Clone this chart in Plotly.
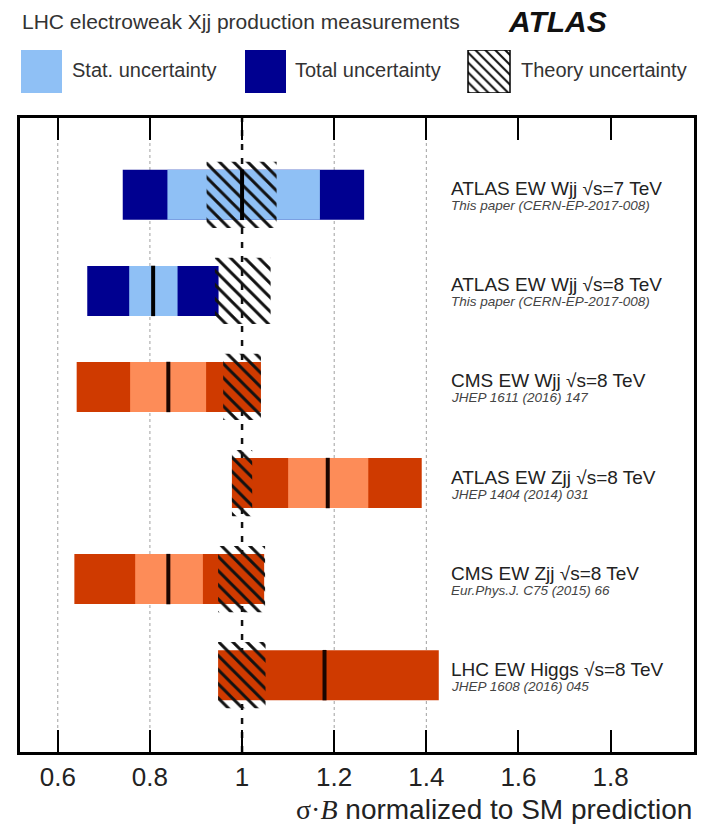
import plotly.graph_objects as go

# ---------------- data ----------------
labels = ["ATLAS EW Wjj √s=7 TeV", "ATLAS EW Wjj √s=8 TeV", "CMS EW Wjj √s=8 TeV",
          "ATLAS EW Zjj √s=8 TeV", "CMS EW Zjj √s=8 TeV", "LHC EW Higgs √s=8 TeV"]
refs = ["This paper (CERN-EP-2017-008)", "This paper (CERN-EP-2017-008)",
        "JHEP 1611 (2016) 147", "JHEP 1404 (2014) 031",
        "Eur.Phys.J. C75 (2015) 66", "JHEP 1608 (2016) 045"]
group = ["this", "this", "other", "other", "other", "other"]
central = [1.00, 0.807, 0.840, 1.186, 0.840, 1.179]
total_lo = [0.741, 0.664, 0.641, 0.978, 0.636, 0.948]
total_hi = [1.265, 0.949, 1.041, 1.390, 1.048, 1.427]
stat_lo = [0.838, 0.755, 0.757, 1.100, 0.768, None]
stat_hi = [1.169, 0.860, 0.922, 1.274, 0.915, None]
theory_lo = [0.923, 0.941, 0.959, 0.978, 0.948, 0.948]
theory_hi = [1.075, 1.062, 1.041, 1.022, 1.050, 1.051]
tick_vals = [0.6, 0.8, 1.0, 1.2, 1.4, 1.6, 1.8]
tick_text = ["0.6", "0.8", "1", "1.2", "1.4", "1.6", "1.8"]
grid_vals = [0.6, 0.8, 1.2, 1.4]
sm_value = 1.0
legend_names = ["Stat. uncertainty", "Total uncertainty", "Theory uncertainty"]

# ---------------- style ----------------
W, H = 702, 824
ML, MR, MT, MB = 20, 8, 0, 72
PW, PH = W - ML - MR, H - MT - MB
PLOT_TOP = 118
FONT = "Liberation Sans, Arial, sans-serif"
DARK_BLUE, LIGHT_BLUE = "#000090", "#8fc0f5"
DARK_RED, LIGHT_RED = "#cf3a00", "#fd8c58"
TXT = "#222222"


def px_x(px):
    return (px - ML) / PW


def px_y(py):
    return (H - MB - py) / PH


tot_col = [DARK_BLUE if g == "this" else DARK_RED for g in group]
stat_col = [LIGHT_BLUE if g == "this" else LIGHT_RED for g in group]
line_col = ["#000000" if g == "this" else "#1a0500" for g in group]

HATCH = dict(shape="\\", fgcolor="#111111", fgopacity=1, bgcolor="rgba(0,0,0,0)",
             size=10, solidity=0.3)

fig = go.Figure()

# total uncertainty
fig.add_trace(go.Bar(orientation="h", y=labels, base=total_lo,
                     x=[h - l for l, h in zip(total_lo, total_hi)],
                     width=0.52, marker=dict(color=tot_col, line_width=0),
                     showlegend=False, hoverinfo="skip"))
# stat uncertainty
idx = [i for i in range(len(labels)) if stat_lo[i] is not None]
fig.add_trace(go.Bar(orientation="h", y=[labels[i] for i in idx],
                     base=[stat_lo[i] for i in idx],
                     x=[stat_hi[i] - stat_lo[i] for i in idx],
                     width=0.52, marker=dict(color=[stat_col[i] for i in idx], line_width=0),
                     showlegend=False, hoverinfo="skip"))
# theory uncertainty (hatched)
fig.add_trace(go.Bar(orientation="h", y=labels, base=theory_lo,
                     x=[h - l for l, h in zip(theory_lo, theory_hi)],
                     width=0.69,
                     marker=dict(color="rgba(0,0,0,0)", line_width=0, pattern=HATCH),
                     showlegend=False, hoverinfo="skip"))
# central values
fig.add_trace(go.Scatter(x=central, y=labels, mode="markers",
                         marker=dict(symbol="line-ns", size=36,
                                     line=dict(width=4, color=line_col)),
                         showlegend=False, hoverinfo="skip"))

# legend swatches on auxiliary axes
sw_x = [21, 245, 468]
sw_w = [41, 41, 42]
fig.add_trace(go.Bar(orientation="h", y=[0.5], base=[sw_x[0]], x=[sw_w[0]], width=1,
                     marker=dict(color=LIGHT_BLUE, line_width=0),
                     xaxis="x2", yaxis="y2", showlegend=False, hoverinfo="skip"))
fig.add_trace(go.Bar(orientation="h", y=[0.5], base=[sw_x[1]], x=[sw_w[1]], width=1,
                     marker=dict(color=DARK_BLUE, line_width=0),
                     xaxis="x2", yaxis="y2", showlegend=False, hoverinfo="skip"))
fig.add_trace(go.Bar(orientation="h", y=[0.5], base=[sw_x[2]], x=[sw_w[2]], width=1,
                     marker=dict(color="rgba(0,0,0,0)", line=dict(width=1.5, color="black"),
                                 pattern=dict(shape="\\", fgcolor="#111111", fgopacity=1,
                                              bgcolor="rgba(0,0,0,0)", size=7,
                                              solidity=0.3)),
                     xaxis="x2", yaxis="y2", showlegend=False, hoverinfo="skip"))

shapes = []
for g in grid_vals:
    shapes.append(dict(type="line", xref="x", yref="y domain", x0=g, x1=g, y0=0, y1=1,
                       line=dict(color="#a0a0a0", width=1, dash="dot"), layer="below"))
shapes.append(dict(type="line", xref="x", yref="y domain", x0=sm_value, x1=sm_value,
                   y0=0, y1=1, line=dict(color="#111111", width=2.5, dash="6px,8px"),
                   layer="below"))

ann = []
for lab, ref in zip(labels, refs):
    ann.append(dict(x=px_x(449), xref="paper", y=lab, yref="y", text=lab,
                    xanchor="left", yanchor="middle", yshift=6, showarrow=False,
                    font=dict(family=FONT, size=19, color=TXT)))
    ann.append(dict(x=px_x(449), xref="paper", y=lab, yref="y", text="<i>" + ref + "</i>",
                    xanchor="left", yanchor="middle", yshift=-11, showarrow=False,
                    font=dict(family=FONT, size=13.5, color="#444444")))
ann.append(dict(x=px_x(20), xref="paper", y=px_y(21), yref="paper",
                text="LHC electroweak Xjj production measurements",
                xanchor="left", yanchor="middle", showarrow=False,
                font=dict(family=FONT, size=21, color="#333333")))
ann.append(dict(x=px_x(506), xref="paper", y=px_y(21), yref="paper",
                text="<b><i>ATLAS</i></b>", xanchor="left", yanchor="middle",
                showarrow=False, font=dict(family=FONT, size=30, color="#111111")))
for name, lx in zip(legend_names, [70, 293, 519]):
    ann.append(dict(x=px_x(lx), xref="paper", y=px_y(70), yref="paper", text=name,
                    xanchor="left", yanchor="middle", showarrow=False,
                    font=dict(family=FONT, size=20, color="#333333")))
ann.append(dict(x=px_x(694), xref="paper", y=px_y(809), yref="paper",
                text="<span style='font-family:Liberation Serif'>σ·<i>B</i></span> normalized to SM prediction",
                xanchor="right", yanchor="middle", showarrow=False,
                font=dict(family=FONT, size=28, color="#222222")))

fig.update_layout(
    width=W, height=H, margin=dict(l=ML, r=MR, t=MT, b=MB),
    paper_bgcolor="white", plot_bgcolor="white", barmode="overlay",
    shapes=shapes, annotations=ann, showlegend=False,
    xaxis=dict(range=[0.518, 1.981], tickvals=tick_vals, ticktext=tick_text,
               ticks="inside", ticklen=22, tickwidth=2, tickcolor="black",
               showline=True, linewidth=2.5, linecolor="black", mirror="ticks",
               showgrid=False, zeroline=False,
               tickfont=dict(family=FONT, size=26, color="#222222")),
    yaxis=dict(type="category", categoryorder="array", categoryarray=labels,
               range=[5.8, -0.8], showticklabels=False, ticks="",
               showline=True, linewidth=2.5, linecolor="black", mirror=True,
               showgrid=False, zeroline=False, domain=[0, px_y(PLOT_TOP)]),
    xaxis2=dict(anchor="y2", range=[ML, W - MR], visible=False, domain=[0, 1]),
    yaxis2=dict(anchor="x2", range=[0, 1], visible=False,
                domain=[px_y(93), px_y(50)]),
)

fig.write_html("out.html")
